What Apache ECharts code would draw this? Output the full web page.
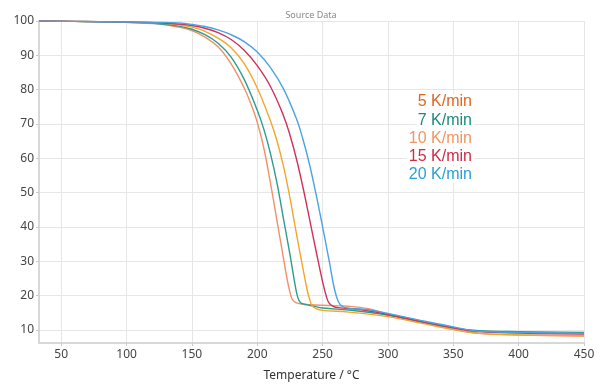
<!DOCTYPE html>
<html>
<head>
<meta charset="utf-8">
<script src="https://cdn.jsdelivr.net/npm/echarts@6/dist/echarts.min.js"></script>
<style>html,body{margin:0;padding:0;background:#fff}#c{width:600px;height:384px}</style>
</head>
<body>
<div id="c"></div>
<script>
var seriesNames = ['5 K/min', '7 K/min', '10 K/min', '15 K/min', '20 K/min'];
var lineColors = ['#f2906a', '#2a9d8f', '#f4a52c', '#d2305a', '#4aa3e2'];
var labelColors = ['#e4631f', '#1d8a80', '#f2955e', '#d22a45', '#2aa0d8'];
var xTicks = [50, 100, 150, 200, 250, 300, 350, 400, 450];
var yTicks = [10, 20, 30, 40, 50, 60, 70, 80, 90, 100];

var temp5  = [33, 60, 100, 125, 140, 150, 160, 170, 180, 190, 195, 200, 205, 210, 215, 220, 223, 225, 227, 230, 235, 250, 270, 285, 300, 325, 350, 370, 400, 450];
var mass5  = [100, 99.9, 99.6, 99.1, 98.2, 97.2, 95.3, 92.5, 87.5, 80.5, 76, 70.5, 63, 53, 42, 31, 24.5, 21, 18.8, 17.9, 17.5, 17.2, 16.9, 16.2, 14.6, 12.3, 10.2, 9.0, 8.5, 8.2];

var temp7  = [33, 60, 100, 125, 140, 150, 160, 170, 180, 190, 200, 205, 210, 215, 220, 225, 229, 231, 233, 236, 240, 250, 270, 300, 325, 350, 370, 400, 450];
var mass7  = [100, 99.9, 99.6, 99.2, 98.5, 97.6, 96, 93.5, 89.5, 83, 74, 68.5, 61.5, 53, 42.5, 32, 23, 19.5, 18, 17.5, 17.2, 16.4, 15.8, 14.3, 12.4, 10.6, 9.8, 9.5, 9.3];

var temp10 = [33, 60, 100, 125, 140, 150, 160, 170, 180, 190, 200, 210, 215, 220, 225, 230, 235, 238, 240, 242, 245, 250, 270, 300, 325, 350, 370, 400, 450];
var mass10 = [100, 99.9, 99.7, 99.4, 98.9, 98.2, 97, 95, 92.2, 87.6, 80.5, 71, 65.2, 57.8, 48.5, 38, 27.8, 22, 19, 17, 16.2, 15.7, 15.2, 13.9, 12.0, 10.1, 9.0, 8.6, 8.3];

var temp15 = [33, 60, 100, 125, 140, 150, 160, 170, 180, 190, 200, 210, 220, 225, 230, 235, 240, 245, 250, 253, 255, 258, 262, 280, 300, 325, 350, 370, 400, 450];
var mass15 = [100, 99.9, 99.7, 99.5, 99.1, 98.7, 97.9, 96.6, 94.6, 91.5, 87, 81, 72.5, 66.8, 59.8, 51.5, 42.3, 33, 24, 19.6, 17.8, 16.9, 16.5, 15.9, 14.5, 12.5, 10.6, 9.5, 9.1, 8.8];

var temp20 = [33, 60, 100, 125, 140, 150, 160, 170, 180, 190, 200, 210, 220, 230, 235, 240, 245, 250, 255, 259, 262, 265, 270, 285, 300, 325, 350, 370, 400, 450];
var mass20 = [100, 99.9, 99.7, 99.6, 99.4, 99.0, 98.4, 97.4, 96, 94, 91, 86.5, 80.3, 71.5, 65.5, 58.2, 49.5, 40, 30.2, 22, 18.3, 16.9, 16.3, 15.9, 14.8, 12.8, 10.9, 9.6, 9.3, 9.0];

function pairs(t, m) { return t.map(function (v, i) { return [v, m[i]]; }); }
var allData = [pairs(temp5, mass5), pairs(temp7, mass7), pairs(temp10, mass10), pairs(temp15, mass15), pairs(temp20, mass20)];

var chart = echarts.init(document.getElementById('c'), null, { renderer: 'canvas' });

var series = allData.map(function (d, i) {
  return {
    name: seriesNames[i],
    type: 'line',
    data: d,
    showSymbol: false,
    smooth: 0.4,
    lineStyle: { color: lineColors[i], width: 1.4 },
    itemStyle: { color: lineColors[i] },
    z: 2
  };
});

var graphics = seriesNames.map(function (n, i) {
  return {
    type: 'text',
    right: 126,
    top: 94 + i * 18.2,
    z: 10,
    style: {
      text: n,
      fill: labelColors[i],
      font: '16px "Liberation Sans", Arial, sans-serif',
      backgroundColor: '#fff',
      padding: [0, 2]
    }
  };
});

chart.setOption({
  animation: false,
  backgroundColor: '#fff',
  title: {
    text: 'Source Data',
    left: 306, textAlign: 'center',
    top: 6,
    textStyle: { fontSize: 9, fontWeight: 'normal', color: '#888', fontFamily: '"Noto Sans", sans-serif' }
  },
  grid: { left: 39, right: 16, top: 21, bottom: 41, containLabel: false, outerBoundsMode: 'none' },
  xAxis: {
    type: 'value',
    min: 33, max: 450,
    name: 'Temperature / °C',
    nameLocation: 'middle',
    nameGap: 27,
    nameTextStyle: { fontSize: 12, color: '#333', fontFamily: '"Noto Sans", sans-serif' },
    axisLine: { show: true, lineStyle: { color: '#d8d8d8', width: 2 } },
    axisTick: { show: true, length: 3, lineStyle: { color: '#ccc' }, customValues: xTicks },
    axisLabel: { customValues: xTicks, color: '#444', fontSize: 12, margin: 6, fontFamily: '"Noto Sans", sans-serif' },
    splitLine: { show: true, lineStyle: { color: '#e6e6e6', width: 1 } }
  },
  yAxis: {
    type: 'value',
    min: 6.2, max: 100,
    name: 'Mass / %',
    nameLocation: 'middle',
    nameGap: 28,
    nameTextStyle: { fontSize: 12, color: '#333', fontFamily: '"Noto Sans", sans-serif' },
    axisLine: { show: true, lineStyle: { color: '#d8d8d8', width: 2 } },
    axisTick: { show: true, length: 3, lineStyle: { color: '#ccc' }, customValues: yTicks },
    axisLabel: { customValues: yTicks, color: '#444', fontSize: 12, margin: 5, fontFamily: '"Noto Sans", sans-serif' },
    splitLine: { show: true, lineStyle: { color: '#e6e6e6', width: 1 } }
  },
  graphic: graphics,
  series: series
});
</script>
</body>
</html>
